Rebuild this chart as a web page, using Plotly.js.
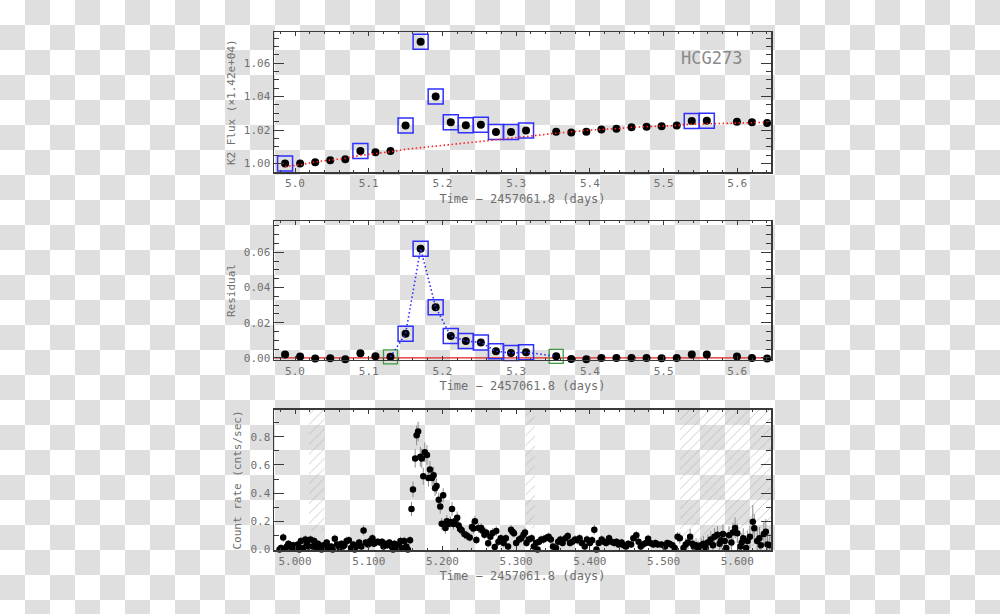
<!DOCTYPE html>
<html><head><meta charset="utf-8">
<script src="https://cdn.plot.ly/plotly-3.0.1.min.js"></script>
<style>
html,body{margin:0;padding:0;width:1000px;height:614px;overflow:hidden;
background:repeating-conic-gradient(#dfdfdf 0 25%, #ffffff 0 50%) 0 0/50px 50px;}
#chart{width:1000px;height:614px;}
</style></head><body><div id="chart"></div>
<script>
// ---- K2 long-cadence photometry (panels 1 and 2) ----
const k2Time = [4.9865,5.0069,5.0274,5.0478,5.0682,5.0887,5.1091,5.1295,5.1500,5.1704,5.1908,5.2113,5.2317,5.2521,5.2726,5.2930,5.3134,
                5.3543,5.3747,5.3952,5.4156,5.4360,5.4565,5.4769,5.4973,5.5178,5.5382,5.5586,5.5995,5.6199,5.6404];
const k2Flux = [1.0000,1.0000,1.0008,1.0020,1.0025,1.0075,1.0067,1.0075,1.0227,1.0727,1.0400,1.0246,1.0229,1.0231,1.0188,1.0188,1.0198,
                1.0190,1.0185,1.0190,1.0204,1.0208,1.0217,1.0219,1.0223,1.0227,1.0254,1.0256,1.0250,1.0246,1.0242];
const k2Model = [0.9982,0.9992,1.0010,1.0021,1.0031,1.0049,1.0058,1.0070,1.0085,1.0094,1.0104,1.0113,1.0123,1.0132,1.0142,1.0151,1.0161,
                 1.0181,1.0191,1.0198,1.0204,1.0208,1.0217,1.0219,1.0224,1.0227,1.0235,1.0237,1.0242,1.0246,1.0246];
const k2Resid = [0.0019,0.0008,-0.0004,-0.0002,-0.0008,0.0026,0.0009,0.0006,0.0137,0.0621,0.0288,0.0124,0.0096,0.0088,0.0038,0.0028,0.0032,
                 0.0009,-0.0006,-0.0008,0.0000,0.0000,0.0000,0.0000,-0.0002,0.0000,0.0019,0.0019,0.0008,0.0000,-0.0004];
const flaggedIdx = [0,5,8,9,10,11,12,13,14,15,16,26,27];     // blue boxes, panel 1
const flareIdx = [8,9,10,11,12,13,14,15,16];                 // blue boxes, panel 2
const flareEdgeIdx = [7,17];                                 // green boxes, panel 2
const starName = 'HCG273';

// ---- X-ray light curve (panel 3) ----
const xrTime = [4.979,4.981,4.984,4.987,4.989,4.991,4.994,4.996,4.998,5.001,5.004,5.006,5.008,5.011,5.014,5.016,5.018,5.021,5.024,5.026,
  5.029,5.031,5.033,5.036,5.039,5.041,5.043,5.045,5.049,5.051,5.054,5.057,5.060,5.063,5.065,5.067,5.070,5.073,5.076,5.079,
  5.081,5.083,5.087,5.090,5.093,5.096,5.099,5.102,5.105,5.107,5.109,5.112,5.115,5.118,5.120,5.122,5.125,5.128,5.131,5.133,
  5.135,5.138,5.141,5.143,5.145,5.148,5.151,5.153,5.156,
  5.158,5.160,5.163,5.165,5.167,5.170,5.172,5.174,5.176,5.179,5.181,5.183,5.186,5.188,5.190,5.192,5.195,5.197,5.199,5.201,
  5.204,5.206,5.208,5.211,5.213,5.215,5.217,5.220,5.222,5.224,5.226,5.230,5.233,5.237,5.240,5.242,5.244,5.246,5.249,5.2526,
  5.254,5.257,5.259,5.262,5.265,5.268,5.271,5.273,5.276,5.279,5.283,5.286,5.289,5.293,5.295,5.297,5.300,5.304,5.307,5.310,
  5.312,5.314,5.317,5.321,5.324,5.327,5.329,5.331,5.334,5.337,5.340,5.344,5.347,5.350,5.354,5.357,5.360,5.363,5.367,5.370,
  5.373,5.376,5.380,5.383,5.386,5.389,5.393,5.396,5.400,5.403,5.406,5.409,5.412,5.416,5.419,5.422,5.426,5.429,5.433,5.436,
  5.439,5.443,5.446,5.449,5.452,5.456,5.459,5.463,5.466,5.469,5.472,5.476,5.479,5.482,5.486,5.489,5.492,5.497,5.502,5.505,
  5.508,5.512,5.515,5.519,5.522,5.527,5.530,5.533,5.536,5.539,5.541,5.544,5.547,5.551,5.554,5.557,5.560,5.564,5.567,5.569,
  5.573,5.576,5.578,5.5805,5.583,5.585,5.5887,5.592,5.594,5.597,5.600,5.604,5.606,5.608,5.612,5.614,5.617,5.621,5.623,5.627,
  5.630,5.632,5.636,5.6387,5.641,5.644];
const xrRate = [0.00,0.01,0.085,0.006,0.02,0.04,0.03,0.01,0.03,0.02,0.035,0.00,0.06,0.01,0.07,0.04,0.02,0.07,0.02,0.06,
  0.01,0.04,0.03,0.00,0.03,0.01,0.05,0.01,0.02,0.00,0.075,0.035,0.015,0.04,0.02,0.03,0.06,0.065,0.01,0.035,
  0.00,0.02,0.05,0.02,0.135,0.05,0.035,0.06,0.08,0.04,0.05,0.055,0.05,0.055,0.02,0.04,0.03,0.05,0.02,0.00,
  0.04,0.015,0.03,0.06,0.01,0.06,0.02,0.00,0.065,
  0.287,0.426,0.646,0.81,0.837,0.658,0.646,0.519,0.69,0.67,0.507,0.568,0.507,0.526,0.434,0.45,0.353,0.304,0.182,0.385,
  0.152,0.20,0.18,0.195,0.287,0.18,0.20,0.225,0.17,0.145,0.137,0.108,0.099,0.084,0.16,0.148,0.20,0.067,0.152,0.152,
  0.135,0.104,0.12,0.043,0.09,0.116,0.018,0.13,0.055,0.08,0.045,0.08,0.02,0.14,0.125,0.115,0.045,0.07,0.08,0.105,
  0.12,0.045,0.07,0.08,0.02,0.045,0.00,0.055,0.07,0.07,0.08,0.09,0.07,0.02,0.01,0.055,0.07,0.045,0.08,0.095,
  0.045,0.055,0.07,0.065,0.08,0.045,0.02,0.07,0.045,0.065,0.14,0.00,0.045,0.07,0.055,0.045,0.08,0.055,0.045,0.055,
  0.035,0.05,0.03,0.02,0.04,0.035,0.08,0.10,0.055,0.02,0.035,0.045,0.075,0.045,0.035,0.045,0.035,0.035,0.02,0.045,
  0.04,0.03,0.01,0.09,0.08,0.01,0.035,0.05,0.09,0.04,0.02,0.03,0.01,0.03,0.04,0.01,0.05,0.07,0.03,0.09,
  0.105,0.04,0.065,0.11,0.06,0.01,0.10,0.05,0.12,0.152,0.115,0.02,0.05,0.08,0.01,0.06,0.09,0.196,0.15,0.06,
  0.08,0.03,0.11,0.125,0.035,0.03];
const xrErr = [0.025,0.025,0.03,0.025,0.025,0.025,0.025,0.025,0.025,0.025,0.025,0.025,0.03,0.025,0.03,0.025,0.025,0.03,0.025,0.03,
  0.025,0.025,0.025,0.025,0.025,0.025,0.025,0.025,0.025,0.025,0.03,0.025,0.025,0.025,0.025,0.025,0.03,0.03,0.025,0.025,
  0.025,0.025,0.025,0.025,0.035,0.025,0.025,0.03,0.03,0.025,0.025,0.025,0.025,0.025,0.025,0.025,0.025,0.025,0.025,0.025,
  0.025,0.025,0.025,0.03,0.025,0.03,0.025,0.025,0.03,
  0.05,0.055,0.065,0.07,0.07,0.07,0.07,0.06,0.07,0.07,0.06,0.06,0.06,0.06,0.055,0.055,0.05,0.05,0.04,0.05,
  0.04,0.045,0.04,0.04,0.05,0.04,0.04,0.045,0.04,0.04,0.035,0.035,0.035,0.03,0.04,0.035,0.04,0.03,0.035,0.035,
  0.035,0.03,0.035,0.03,0.03,0.035,0.025,0.035,0.03,0.03,0.03,0.03,0.025,0.035,0.035,0.03,0.025,0.03,0.03,0.03,
  0.035,0.025,0.03,0.03,0.025,0.025,0.025,0.025,0.03,0.03,0.03,0.03,0.03,0.025,0.025,0.025,0.03,0.025,0.03,0.03,
  0.025,0.025,0.03,0.03,0.03,0.025,0.025,0.03,0.025,0.03,0.035,0.025,0.025,0.03,0.025,0.025,0.03,0.025,0.025,0.025,
  0.025,0.025,0.025,0.025,0.025,0.025,0.03,0.03,0.025,0.025,0.025,0.025,0.03,0.025,0.025,0.025,0.025,0.025,0.025,0.025,
  0.025,0.025,0.025,0.035,0.04,0.04,0.045,0.05,0.055,0.05,0.05,0.05,0.05,0.05,0.055,0.05,0.055,0.06,0.055,0.06,
  0.06,0.055,0.06,0.065,0.06,0.055,0.065,0.06,0.07,0.075,0.07,0.06,0.065,0.07,0.065,0.07,0.08,0.12,0.1,0.08,
  0.08,0.08,0.09,0.09,0.08,0.08];
// excluded (hatched) intervals in the X-ray panel
const gapStart = [5.019, 5.3125, 5.522];
const gapEnd   = [5.040, 5.3255, 5.6457];
const gapLow   = [0.13, 0.15, 0.0];

// ---- styles ----
const FONT = 'DejaVu Sans Mono, monospace';
const TXT = '#6f6f6f';
const AX = '#3a3a3a';
const XR = [4.9715, 5.6457];
const XTITLE = 'Time \u2212 2457061.8 (days)';

function xAxis(anchor, fmt) {
  return {
    anchor: anchor, range: XR, tick0: 5.0, dtick: 0.1, tickformat: fmt,
    ticks: 'inside', ticklen: 4, tickwidth: 1, tickcolor: AX,
    minor: {dtick: 0.02, ticks: 'inside', ticklen: 2, tickwidth: 1, tickcolor: AX},
    showline: true, linecolor: AX, linewidth: 1.5, mirror: 'allticks',
    showgrid: false, zeroline: false,
    tickfont: {family: FONT, size: 11, color: TXT},
    title: {text: XTITLE, font: {family: FONT, size: 12, color: TXT}, standoff: 5}
  };
}
function yAxis(anchor, domain, range, dtick, minor, fmt, title) {
  return {
    anchor: anchor, domain: domain, range: range, tick0: 0, dtick: dtick, tickformat: fmt,
    ticks: 'inside', ticklen: 10, tickwidth: 1, tickcolor: AX,
    minor: {dtick: minor, ticks: 'inside', ticklen: 5, tickwidth: 1, tickcolor: AX},
    showline: true, linecolor: AX, linewidth: 1.5, mirror: 'allticks',
    showgrid: false, zeroline: false,
    tickfont: {family: FONT, size: 11, color: TXT},
    title: {text: title, font: {family: FONT, size: 11, color: TXT}, standoff: 6}
  };
}

const pick = (arr, idx) => idx.map(i => arr[i]);
const lineIdx = [];
for (let i = flareEdgeIdx[0]; i <= flareEdgeIdx[1]; i++) lineIdx.push(i);

// hatch polygons built from gap intervals
const hx = [], hy = [];
gapStart.forEach((s, i) => {
  hx.push(s, gapEnd[i], gapEnd[i], s, s, null);
  hy.push(gapLow[i], gapLow[i], 0.99, 0.99, gapLow[i], null);
});

const BLUE = '#2f2fff';
const DOTS = '1.5px,2.5px';
const traces = [
  // panel 1
  {x: k2Time, y: k2Flux, xaxis: 'x', yaxis: 'y', mode: 'markers', type: 'scatter',
   marker: {color: '#000', size: 8}, cliponaxis: false, hoverinfo: 'skip'},
  {x: pick(k2Time, flaggedIdx), y: pick(k2Flux, flaggedIdx), xaxis: 'x', yaxis: 'y', mode: 'markers', type: 'scatter',
   marker: {symbol: 'square-open', size: 15, color: BLUE, line: {width: 1.5, color: BLUE}}, cliponaxis: false, hoverinfo: 'skip'},
  {x: k2Time, y: k2Model, xaxis: 'x', yaxis: 'y', mode: 'lines', type: 'scatter',
   line: {color: '#ff2020', dash: DOTS, width: 1.6}, hoverinfo: 'skip'},
  // panel 2
  {x: k2Time, y: k2Resid, xaxis: 'x2', yaxis: 'y2', mode: 'markers', type: 'scatter',
   marker: {color: '#000', size: 8}, cliponaxis: false, hoverinfo: 'skip'},
  {x: pick(k2Time, flareEdgeIdx), y: pick(k2Resid, flareEdgeIdx), xaxis: 'x2', yaxis: 'y2', mode: 'markers', type: 'scatter',
   marker: {symbol: 'square-open', size: 14, color: '#3d9a3d', line: {width: 1.3, color: '#3d9a3d'}}, cliponaxis: false, hoverinfo: 'skip'},
  {x: pick(k2Time, flareIdx), y: pick(k2Resid, flareIdx), xaxis: 'x2', yaxis: 'y2', mode: 'markers', type: 'scatter',
   marker: {symbol: 'square-open', size: 15, color: BLUE, line: {width: 1.5, color: BLUE}}, cliponaxis: false, hoverinfo: 'skip'},
  {x: pick(k2Time, lineIdx), y: pick(k2Resid, lineIdx), xaxis: 'x2', yaxis: 'y2', mode: 'lines', type: 'scatter',
   line: {color: BLUE, dash: DOTS, width: 1.6}, hoverinfo: 'skip'},
  // panel 3
  {x: hx, y: hy, xaxis: 'x3', yaxis: 'y3', mode: 'lines', type: 'scatter', fill: 'toself',
   fillcolor: 'rgba(0,0,0,0)', line: {width: 0, color: 'rgba(0,0,0,0)'},
   fillpattern: {shape: '/', fgcolor: 'rgba(175,175,175,0.75)', bgcolor: 'rgba(0,0,0,0)', size: 7, solidity: 0.12},
   hoverinfo: 'skip'},
  {x: xrTime, y: xrRate, xaxis: 'x3', yaxis: 'y3', mode: 'markers', type: 'scatter',
   marker: {color: '#000', size: 6.5},
   error_y: {type: 'data', array: xrErr, visible: true, color: '#8c8c8c', thickness: 1, width: 0},
   cliponaxis: false, hoverinfo: 'skip'}
];

const layout = {
  width: 1000, height: 614,
  margin: {l: 274, r: 229, t: 32, b: 64},
  paper_bgcolor: 'rgba(0,0,0,0)', plot_bgcolor: 'rgba(0,0,0,0)',
  showlegend: false,
  font: {family: FONT, color: TXT},
  xaxis: xAxis('y', '.1f'),
  yaxis: yAxis('x', [0.729, 1.0], [0.9947, 1.0786], 0.02, 0.005, '.2f', 'K2 Flux (\u00d71.42e+04)'),
  xaxis2: xAxis('y2', '.1f'),
  yaxis2: yAxis('x2', [0.3668, 0.6351], [-0.0012, 0.0778], 0.02, 0.005, '.2f', 'Residual'),
  xaxis3: xAxis('y3', '.3f'),
  yaxis3: yAxis('x3', [0, 0.2703], [-0.004, 0.99], 0.2, 0.1, '.1f', 'Count rate (cnts/sec)'),
  shapes: [
    {type: 'line', xref: 'x2 domain', yref: 'y2', x0: 0, x1: 1, y0: 0, y1: 0,
     line: {color: '#e02020', width: 1.3}, layer: 'below'}
  ],
  annotations: [
    {text: starName, xref: 'x domain', yref: 'y domain', x: 0.881, y: 0.814,
     xanchor: 'center', yanchor: 'middle',
     showarrow: false, font: {family: FONT, size: 17, color: '#8a8a8a'}}
  ]
};

Plotly.newPlot('chart', traces, layout, {displayModeBar: false, staticPlot: true});
</script></body></html>
